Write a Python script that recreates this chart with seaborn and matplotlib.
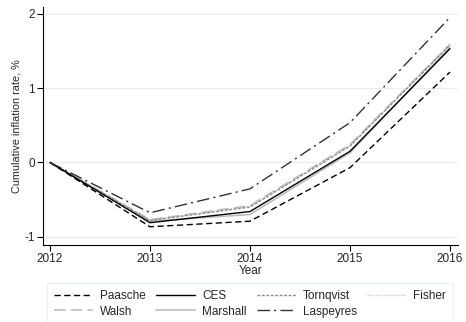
import matplotlib
matplotlib.use("Agg")
import matplotlib.pyplot as plt
import seaborn as sns
import pandas as pd

# Cumulative inflation by index formula, % relative to 2012
years = [2012, 2013, 2014, 2015, 2016]
paasche = [0.0, -0.865, -0.79, -0.07, 1.215]
ces = [0.0, -0.81, -0.66, 0.15, 1.53]
tornqvist = [0.0, -0.78, -0.60, 0.22, 1.58]
fisher = [0.0, -0.78, -0.59, 0.23, 1.58]
walsh = [0.0, -0.77, -0.58, 0.24, 1.59]
marshall = [0.0, -0.79, -0.70, 0.13, 1.55]
laspeyres = [0.0, -0.677, -0.355, 0.535, 1.95]

series = {
    "Paasche": paasche,
    "CES": ces,
    "Tornqvist": tornqvist,
    "Fisher": fisher,
    "Walsh": walsh,
    "Marshall": marshall,
    "Laspeyres": laspeyres,
}

styles = {
    "Paasche": dict(color="black", linestyle=(0, (4.5, 2.5)), linewidth=1.0),
    "CES": dict(color="black", linestyle="-", linewidth=1.0),
    "Tornqvist": dict(color="#8c8c8c", linestyle=(0, (2, 1.2)), linewidth=1.0),
    "Fisher": dict(color="#c8c8c8", linestyle=(0, (1, 1)), linewidth=1.0),
    "Walsh": dict(color="#bdbdbd", linestyle=(0, (7, 3)), linewidth=1.2),
    "Marshall": dict(color="#bdbdbd", linestyle="-", linewidth=1.2),
    "Laspeyres": dict(color="#333333", linestyle=(0, (9, 3, 1.5, 3)), linewidth=1.0),
}

df = pd.DataFrame(
    [(name, yr, v) for name, vals in series.items() for yr, v in zip(years, vals)],
    columns=["index", "year", "value"],
)

sns.set_style("white")
plt.rcParams["font.family"] = ["Liberation Sans", "DejaVu Sans"]
plt.rcParams["font.size"] = 8.5

fig = plt.figure(figsize=(4.66, 3.22), dpi=100)
ax = fig.add_axes([43 / 466, 1 - 245 / 322, (458 - 43) / 466, (245 - 7) / 322])

draw_order = ["Fisher", "Walsh", "Marshall", "Tornqvist", "Paasche", "CES", "Laspeyres"]
lines = {}
for name in draw_order:
    sub = df[df["index"] == name]
    sns.lineplot(data=sub, x="year", y="value", ax=ax, legend=False, **styles[name])
    lines[name] = ax.lines[-1]

ax.set_xlim(2011.93, 2016.08)
ax.set_ylim(-1.11, 2.09)
ax.set_xticks(years)
ax.set_xticklabels([str(y) for y in years])
ax.set_yticks([-1, 0, 1, 2])
ax.set_yticklabels(["-1", "0", "1", "2"])
ax.grid(axis="y", color="#e6edf0", linewidth=0.8)
ax.grid(axis="x", visible=False)
ax.set_axisbelow(True)

for side in ["top", "right"]:
    ax.spines[side].set_visible(False)
for side in ["left", "bottom"]:
    ax.spines[side].set_color("black")
    ax.spines[side].set_linewidth(0.8)
ax.tick_params(axis="both", direction="out", length=4, width=0.8, color="black",
               labelsize=8.5, pad=2, left=True, bottom=True)

ax.set_xlabel("Year", fontsize=8.5, labelpad=0)
ax.set_ylabel("Cumulative inflation rate, %", fontsize=7.8, labelpad=2)

legend_order = ["Paasche", "Walsh", "CES", "Marshall", "Tornqvist", "Laspeyres", "Fisher"]
handles = [lines[n] for n in legend_order]
leg = fig.legend(handles, legend_order, loc="upper left",
                 bbox_to_anchor=(47 / 466, 1 - 283 / 322, (453 - 47) / 466, 0),
                 mode="expand", ncol=4,
                 frameon=True, fancybox=False, fontsize=8.5,
                 handlelength=3.3, handletextpad=0.6, columnspacing=0.5,
                 labelspacing=0.3, borderpad=0.6, borderaxespad=0)
leg.get_frame().set_edgecolor("#e6edf0")
leg.get_frame().set_linewidth(0.8)

fig.savefig("out.png", dpi=100)
